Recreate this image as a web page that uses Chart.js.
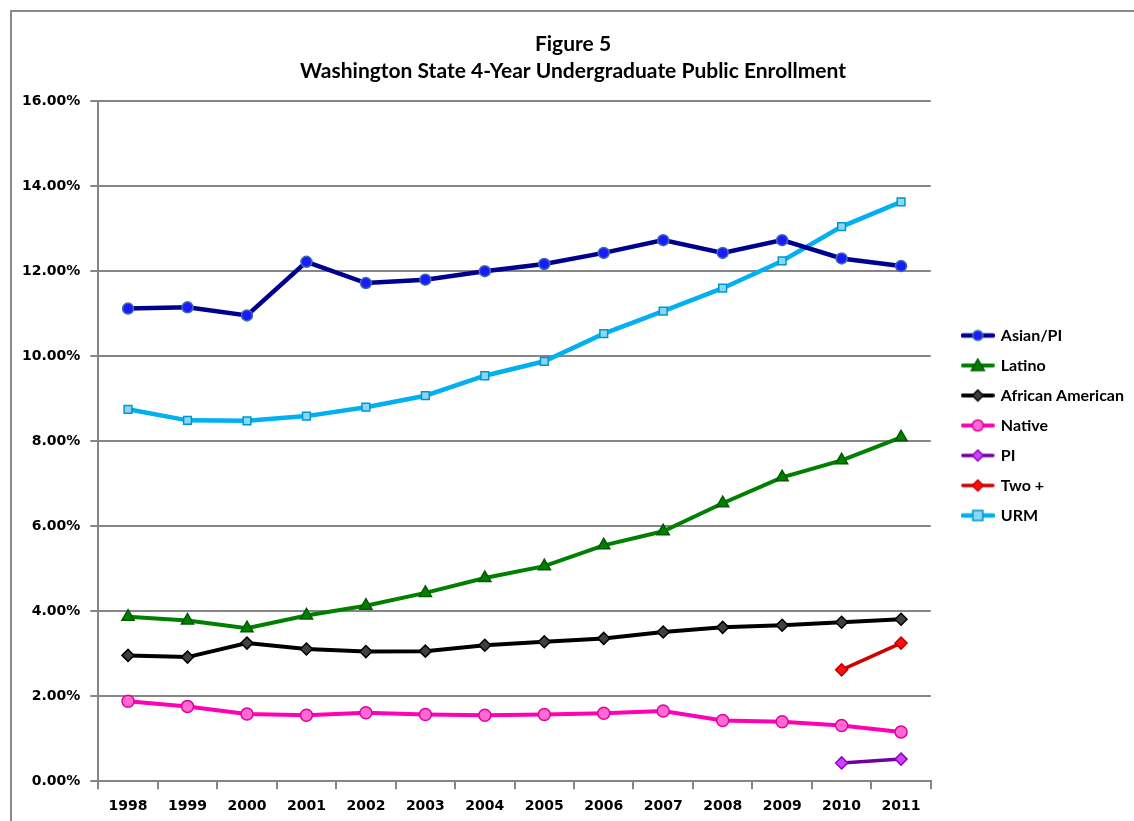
<!DOCTYPE html>
<html>
<head>
<meta charset="utf-8">
<script src="https://cdn.jsdelivr.net/npm/chart.js"></script>
<style>
  html, body { margin: 0; padding: 0; background: #fff; }
  #wrap { width: 1134px; height: 821px; position: relative; }
</style>
</head>
<body>
<div id="wrap"><canvas id="myChart" width="1134" height="821"></canvas></div>
<script>
const years = ['1998', '1999', '2000', '2001', '2002', '2003', '2004', '2005', '2006', '2007', '2008', '2009', '2010', '2011'];

// percent of enrollment
const asianPI = [11.12, 11.15, 10.96, 12.22, 11.72, 11.80, 12.00, 12.17, 12.43, 12.73, 12.43, 12.73, 12.30, 12.12];
const latino = [3.87, 3.78, 3.60, 3.90, 4.13, 4.43, 4.78, 5.06, 5.55, 5.88, 6.54, 7.15, 7.55, 8.09];
const africanAmerican = [2.96, 2.92, 3.25, 3.11, 3.05, 3.06, 3.20, 3.28, 3.36, 3.51, 3.62, 3.67, 3.74, 3.81];
const native = [1.88, 1.76, 1.58, 1.55, 1.61, 1.57, 1.55, 1.57, 1.60, 1.65, 1.43, 1.40, 1.31, 1.16];
const pi = [null, null, null, null, null, null, null, null, null, null, null, null, 0.43, 0.52];
const twoPlus = [null, null, null, null, null, null, null, null, null, null, null, null, 2.62, 3.25];
const urm = [8.75, 8.49, 8.48, 8.59, 8.80, 9.07, 9.54, 9.88, 10.53, 11.06, 11.60, 12.24, 13.05, 13.63];

const yTicks = [0, 2, 4, 6, 8, 10, 12, 14, 16];

const gridGray = '#868686';

// small legend swatch: line with the marker in the middle
function legendSwatch(lineColor, lineWidth, style, fill, stroke, r) {
  const c = document.createElement('canvas');
  c.width = 34;
  c.height = 16;
  const g = c.getContext('2d');
  g.strokeStyle = lineColor;
  g.lineWidth = lineWidth;
  g.lineCap = 'round';
  g.beginPath();
  g.moveTo(2, 8);
  g.lineTo(32, 8);
  g.stroke();
  g.fillStyle = fill;
  g.strokeStyle = stroke;
  g.lineWidth = 1.5;
  g.beginPath();
  if (style === 'circle') {
    g.arc(17, 8, r, 0, Math.PI * 2);
  } else if (style === 'triangle') {
    g.moveTo(17, 8 - r);
    g.lineTo(17 + r, 8 + r * 0.75);
    g.lineTo(17 - r, 8 + r * 0.75);
    g.closePath();
  } else if (style === 'rectRot') {
    g.moveTo(17, 8 - r);
    g.lineTo(17 + r, 8);
    g.lineTo(17, 8 + r);
    g.lineTo(17 - r, 8);
    g.closePath();
  } else {
    g.rect(17 - r, 8 - r, r * 2, r * 2);
  }
  g.fill();
  g.stroke();
  return c;
}

const series = [
  { label: 'Asian/PI', data: asianPI, line: '#00008f', width: 4.5, style: 'circle', fill: '#1a1aff', stroke: '#3f6fa8', r: 5.5 },
  { label: 'Latino', data: latino, line: '#008000', width: 4, style: 'triangle', fill: '#008000', stroke: '#005a00', r: 7 },
  { label: 'African American', data: africanAmerican, line: '#000000', width: 4, style: 'rectRot', fill: '#404040', stroke: '#000000', r: 6 },
  { label: 'Native', data: native, line: '#ff00b4', width: 4, style: 'circle', fill: '#ff6ad2', stroke: '#e000a0', r: 6 },
  { label: 'PI', data: pi, line: '#7000a0', width: 3.5, style: 'rectRot', fill: '#cc44ff', stroke: '#9000c0', r: 6 },
  { label: 'Two +', data: twoPlus, line: '#d00000', width: 3.5, style: 'rectRot', fill: '#ff1010', stroke: '#c00000', r: 6 },
  { label: 'URM', data: urm, line: '#00b0f0', width: 4.5, style: 'rect', fill: '#8ad6f5', stroke: '#0096cc', r: 5.5 }
];

const datasets = series.map(function(s) {
  return {
    label: s.label,
    data: s.data,
    borderColor: s.line,
    borderWidth: s.width,
    backgroundColor: s.fill,
    pointBackgroundColor: s.fill,
    pointBorderColor: s.stroke,
    pointBorderWidth: 1.5,
    pointStyle: s.style,
    pointRadius: s.r,
    pointHoverRadius: s.r,
    tension: 0,
    fill: false,
    spanGaps: false,
    swatch: legendSwatch(s.line, s.width, s.style, s.fill, s.stroke, s.r - 0.5)
  };
});

// gray frame around the chart (only top & left visible in the crop)
const framePlugin = {
  id: 'frame',
  beforeDraw: function(chart) {
    const ctx = chart.ctx;
    ctx.save();
    ctx.fillStyle = '#fff';
    ctx.fillRect(0, 0, chart.width, chart.height);
    ctx.strokeStyle = '#8a8a8a';
    ctx.lineWidth = 2;
    ctx.beginPath();
    ctx.moveTo(11, chart.height);
    ctx.lineTo(11, 11);
    ctx.lineTo(chart.width, 11);
    ctx.stroke();
    ctx.restore();
  }
};

const bold = function(size, family) {
  return { family: family, size: size, weight: 'bold' };
};

new Chart(document.getElementById('myChart'), {
  type: 'line',
  data: { labels: years, datasets: datasets },
  plugins: [framePlugin],
  options: {
    responsive: false,
    animation: false,
    layout: { padding: { left: 12, right: 0, top: 0, bottom: -3 } },
    plugins: {
      title: {
        display: true,
        text: ['Figure 5', 'Washington State 4-Year Undergraduate Public Enrollment'],
        color: '#000',
        font: { family: 'Lato', size: 21, weight: 'bold', lineHeight: 1.29 },
        padding: { top: 31, bottom: 16 }
      },
      legend: {
        position: 'right',
        align: 'center',
        title: { display: true, text: ' ', font: { size: 10 }, padding: { top: 7, bottom: 8 } },
        labels: {
          color: '#000',
          font: bold(16, 'Lato'),
          usePointStyle: true,
          pointStyleWidth: 30,
          padding: 14,
          generateLabels: function(chart) {
            return chart.data.datasets.map(function(ds, i) {
              return {
                text: ds.label,
                pointStyle: ds.swatch,
                fillStyle: ds.backgroundColor,
                strokeStyle: ds.borderColor,
                lineWidth: 0,
                hidden: false,
                datasetIndex: i,
                fontColor: '#000'
              };
            });
          }
        }
      },
      tooltip: { enabled: false }
    },
    scales: {
      x: {
        offset: true,
        grid: {
          display: true,
          offset: true,
          drawOnChartArea: false,
          drawTicks: true,
          tickLength: 8,
          color: gridGray,
          lineWidth: 2
        },
        border: { display: true, color: gridGray, width: 2 },
        ticks: { color: '#000', font: bold(14, 'DejaVu Sans'), padding: 9, maxRotation: 0, autoSkip: false }
      },
      y: {
        min: 0,
        max: 16,
        afterBuildTicks: function(scale) {
          scale.ticks = yTicks.map(function(v) { return { value: v }; });
        },
        grid: {
          color: gridGray,
          lineWidth: 2,
          drawTicks: true,
          tickLength: 8
        },
        border: { display: true, color: gridGray, width: 2 },
        ticks: {
          color: '#000',
          font: bold(14, 'DejaVu Sans'),
          padding: 10,
          callback: function(v) { return v.toFixed(2) + '%'; }
        }
      },
      gap: {
        position: 'right',
        display: true,
        grid: { display: false },
        border: { display: false },
        ticks: { display: false },
        afterFit: function(scale) { scale.width = 18; }
      }
    }
  }
});
</script>
</body>
</html>
